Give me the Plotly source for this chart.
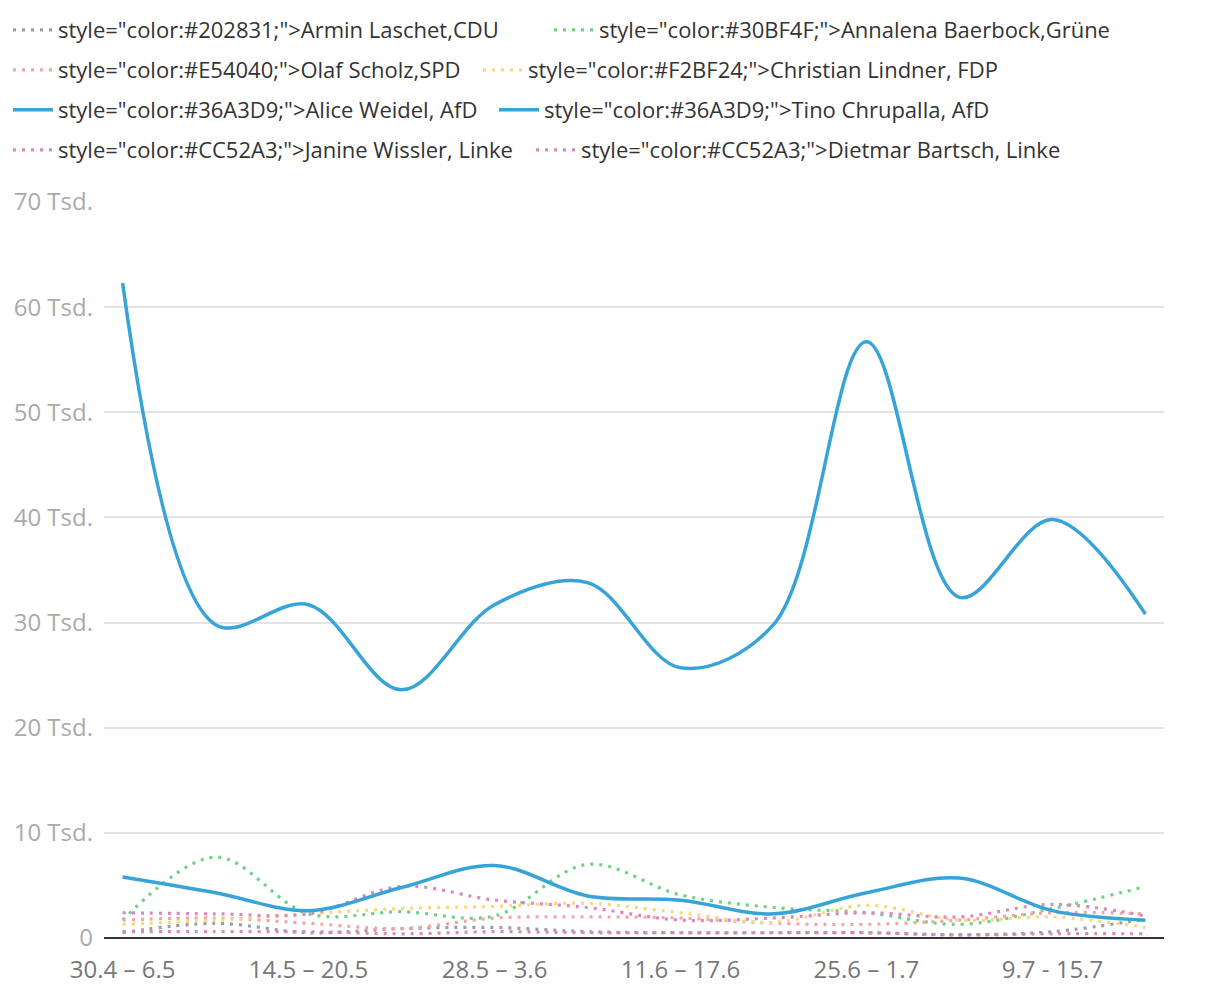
import plotly.graph_objects as go

weeks = ["30.4 – 6.5", "7.5 – 13.5", "14.5 – 20.5", "21.5 – 27.5", "28.5 – 3.6", "4.6 – 10.6",
         "11.6 – 17.6", "18.6 – 24.6", "25.6 – 1.7", "2.7 – 8.7", "9.7 - 15.7", "16.7 - 22.7"]

laschet = [500, 1400, 500, 900, 1000, 600, 500, 500, 500, 300, 600, 1800]
baerbock = [1700, 7700, 2300, 2500, 2100, 7000, 4100, 2900, 2400, 1300, 2800, 4900]
scholz = [1700, 1900, 1400, 900, 1900, 2000, 1900, 1400, 1300, 1700, 2400, 2300]
lindner = [1300, 1700, 2300, 2800, 3000, 3300, 2400, 1500, 3100, 1700, 2000, 1000]
weidel = [62300, 29800, 31700, 23600, 31700, 33800, 25700, 29800, 56700, 32400, 39800, 30800]
chrupalla = [5800, 4300, 2600, 4800, 6900, 4000, 3600, 2300, 4300, 5700, 2600, 1700]
wissler = [2400, 2300, 2300, 4900, 3600, 2900, 1700, 1900, 2400, 2000, 3200, 2100]
bartsch = [600, 600, 600, 400, 600, 500, 500, 500, 500, 300, 400, 400]

names = [
    'style="color:#202831;">Armin Laschet,CDU',
    'style="color:#30BF4F;">Annalena Baerbock,Grüne',
    'style="color:#E54040;">Olaf Scholz,SPD',
    'style="color:#F2BF24;">Christian Lindner, FDP',
    'style="color:#36A3D9;">Alice Weidel, AfD',
    'style="color:#36A3D9;">Tino Chrupalla, AfD',
    'style="color:#CC52A3;">Janine Wissler, Linke',
    'style="color:#CC52A3;">Dietmar Bartsch, Linke',
]
values = [laschet, baerbock, scholz, lindner, weidel, chrupalla, wissler, bartsch]
colors = ["#9C9EA3", "#6ED283", "#F4A5A3", "#F8D87C", "#36A3D9", "#36A3D9", "#DC86C3", "#DC86C3"]
solid = [False, False, False, False, True, True, False, False]

W, H, OFF = 1212, 978, 8  # page body has an 8px margin

# legend entry placement: (row centre y, symbol left x) in page pixels
legend_pos = [(30, 12), (30, 553), (70, 12), (70, 482), (110, 12), (110, 498), (150, 12), (150, 535)]
legend_ids = ["legend"] + [f"legend{k}" for k in range(2, 9)]

fig = go.Figure()
order = [0, 1, 2, 3, 6, 7, 4, 5]  # dotted lines first, solid lines on top
for i in order:
    fig.add_trace(go.Scatter(
        x=weeks, y=values[i], name=names[i], mode="lines",
        line=dict(color=colors[i], width=3.5 if solid[i] else 3.2,
                  dash="solid" if solid[i] else "3px,6px", shape="spline", smoothing=1.0),
        legend=legend_ids[i],
    ))

yt = [0, 10000, 20000, 30000, 40000, 50000, 60000, 70000]
ytext = ["0"] + [f"{v // 1000} Tsd." for v in yt[1:]]

def leg(row_center_px, left_px):
    return dict(orientation="h", xref="container", yref="container",
                x=(left_px - OFF - 4) / W, y=1 - (row_center_px - OFF) / H,
                xanchor="left", yanchor="middle",
                font=dict(size=22, color="#333333", family="Open Sans, sans-serif"),
                itemwidth=40, bgcolor="rgba(0,0,0,0)")

legends = {lid: leg(*pos) for lid, pos in zip(legend_ids, legend_pos)}

fig.update_layout(
    width=W, height=H,
    margin=dict(l=104 - OFF, r=W + OFF - 1164, t=202 - OFF, b=H + OFF - 938),
    paper_bgcolor="white", plot_bgcolor="white",
    font=dict(family="Open Sans, sans-serif", size=23, color="#333333"),
    showlegend=True,
    **legends,
    xaxis=dict(type="category", range=[-0.2, 11.2], showgrid=False,
               tickvals=weeks[::2], ticktext=weeks[::2], automargin=False,
               tickfont=dict(size=24, color="#777777"), ticks="", showline=False,
               zeroline=False, ticklabelstandoff=15),
    yaxis=dict(range=[0, 70000], tickvals=yt, ticktext=ytext, showgrid=True, automargin=False,
               gridcolor="#E3E3E3", gridwidth=1.5, zeroline=True, zerolinecolor="#333333",
               zerolinewidth=2, tickfont=dict(size=24, color="#AAAAAA"), ticks="",
               ticklabelstandoff=10),
)

fig.write_html("out.html")
